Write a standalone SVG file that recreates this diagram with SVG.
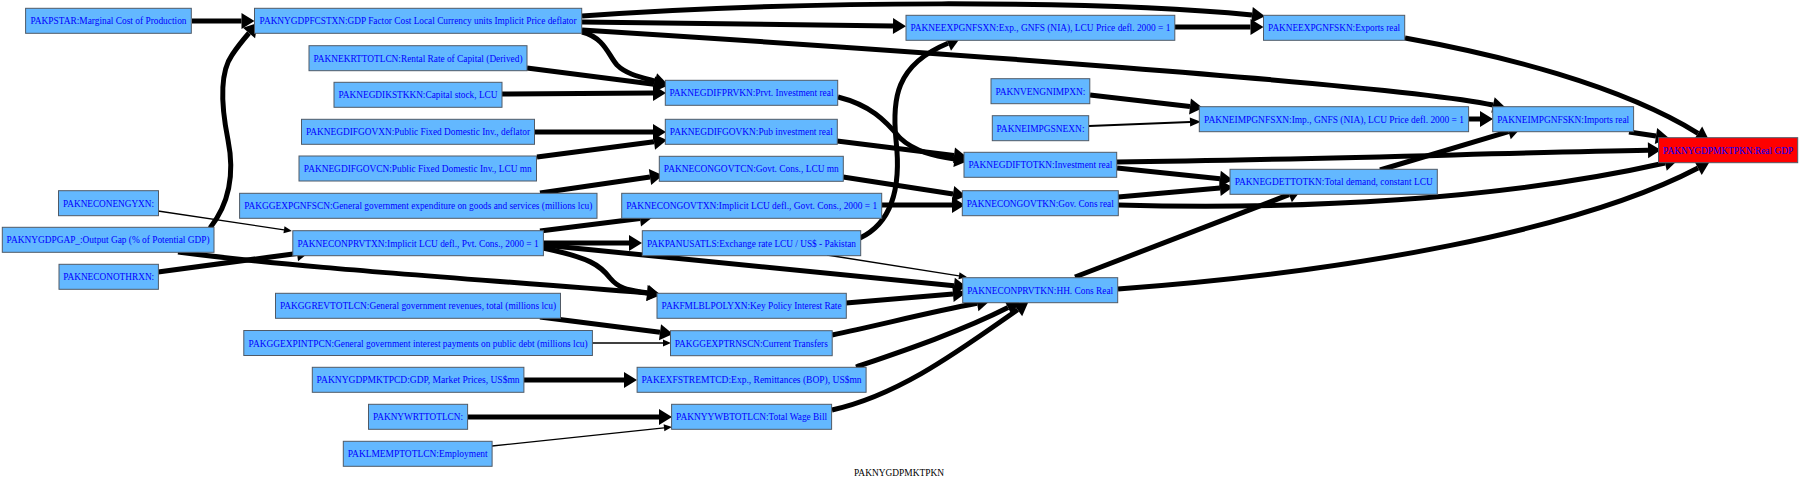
<svg xmlns="http://www.w3.org/2000/svg" width="1800" height="485" viewBox="0 0 1800 485">
<style>
.n rect{fill:#63b8ff;stroke:#505a66;stroke-width:1}
.n.r rect{fill:#ff0000}
.n text{font-family:"Liberation Serif","Times New Roman",serif;font-size:10px;fill:#0000ff;text-anchor:middle}
.e path{fill:none;stroke:#000;stroke-width:5;marker-end:url(#a)}
.e path.t{stroke-width:1.3;marker-end:url(#b)}
.e path.m{stroke-width:2;marker-end:url(#c)}
.title{font-family:"Liberation Serif","Times New Roman",serif;font-size:10px;fill:#000;text-anchor:middle}
</style>
<defs>
<marker id="a" markerUnits="userSpaceOnUse" markerWidth="14" markerHeight="16" refX="0" refY="8" orient="auto" overflow="visible"><path d="M0,0L13,8L0,16z" fill="#000"/></marker>
<marker id="b" markerUnits="userSpaceOnUse" markerWidth="8" markerHeight="7" refX="0" refY="3.5" orient="auto" overflow="visible"><path d="M0,0L8,3.5L0,7z" fill="#000"/></marker>
<marker id="c" markerUnits="userSpaceOnUse" markerWidth="11" markerHeight="9" refX="0" refY="4.5" orient="auto" overflow="visible"><path d="M0,0L11,4.5L0,9z" fill="#000"/></marker>
</defs>
<rect x="0" y="0" width="1800" height="485" fill="#fff"/>
<g id="edges" class="e">
<path d="M192,21L241.5,21"/>
<path d="M210,228C232,200 234,170 228,140C222,110 218,75 232,55C238,46 243,40 249,33"/>
<path d="M582,22C700,23 800,25 893,26"/>
<path d="M582,16C800,0 1100,0 1252,15"/>
<path d="M582,30C900,50 1400,85 1493,105"/>
<path d="M582,32C605,38 608,55 617,65C626,74 640,77 655,81"/>
<path d="M527,68L654,84.3"/>
<path d="M502,94L653,93"/>
<path d="M535,132L653,132"/>
<path d="M537,157L654,141.7"/>
<path d="M540,193L650,177"/>
<path d="M540,231L640,218.6"/>
<path d="M543,243L629,243"/>
<path d="M543,248C590,258 600,265 610,278C620,290 630,290 647.6,293"/>
<path d="M178,252C300,268 450,277 647,293"/>
<path d="M543,245L954,285.8"/>
<path class="t" d="M827,255L959,275.8"/>
<path d="M846,303L953,294.1"/>
<path d="M832,335C880,325 930,312 977,303.3"/>
<path d="M856,367C900,352 960,332 1008,307.6"/>
<path d="M832,410C900,395 960,350 1017.6,309.8"/>
<path d="M540,317L660,332.3"/>
<path class="t" d="M592,343L663,343"/>
<path d="M524,380L624,380"/>
<path d="M468,417L659,417"/>
<path class="t" d="M492,446L664,427.8"/>
<path class="t" d="M158,211L284,229.8"/>
<path d="M158,272L297,253.4"/>
<path d="M860,238C898,220 900,175 896,140C892,100 895,65 948,43.3"/>
<path d="M1175,27L1250.5,27"/>
<path d="M1405,38C1500,55 1620,85 1698,133.3"/>
<path d="M1629,132L1656,136"/>
<path d="M1469,119L1480,119"/>
<path d="M1090,95L1190,106.5"/>
<path class="m" d="M1089,126L1190,122.1"/>
<path d="M1380,170L1508.5,131.7"/>
<path d="M838,97C870,105 885,120 900,138C915,152 935,156 954.6,159.1"/>
<path d="M837,141L954,155.4"/>
<path d="M843,177L953,194"/>
<path d="M882,205L952,205"/>
<path d="M1117,168L1220,178.7"/>
<path d="M1118,197L1220,188.1"/>
<path d="M1075,277L1289,194.7"/>
<path d="M1117,162C1300,160 1500,153 1648,150.3"/>
<path d="M1118,205C1300,210 1500,200 1665,163"/>
<path d="M1118,289C1350,272 1580,230 1698,168"/>
</g>
<g id="PAKPSTAR" class="n"><rect x="25.6" y="8.3" width="165.7" height="25"/><text x="108.5" y="24.3" textLength="156" lengthAdjust="spacingAndGlyphs">PAKPSTAR:Marginal Cost of Production</text></g>
<g id="PAKNYGDPFCSTXN" class="n"><rect x="254.5" y="8.3" width="327.2" height="25"/><text x="418.1" y="24.3" textLength="317" lengthAdjust="spacingAndGlyphs">PAKNYGDPFCSTXN:GDP Factor Cost Local Currency units Implicit Price deflator</text></g>
<g id="PAKNEKRTTOTLCN" class="n"><rect x="309" y="45.7" width="218" height="25"/><text x="418" y="61.7" textLength="209" lengthAdjust="spacingAndGlyphs">PAKNEKRTTOTLCN:Rental Rate of Capital (Derived)</text></g>
<g id="PAKNEGDIKSTKKN" class="n"><rect x="334" y="82.3" width="168" height="25"/><text x="418" y="98.3" textLength="159" lengthAdjust="spacingAndGlyphs">PAKNEGDIKSTKKN:Capital stock, LCU</text></g>
<g id="PAKNEGDIFGOVXN" class="n"><rect x="301.5" y="119.3" width="233" height="25"/><text x="418" y="135.3" textLength="224" lengthAdjust="spacingAndGlyphs">PAKNEGDIFGOVXN:Public Fixed Domestic Inv., deflator</text></g>
<g id="PAKNEGDIFGOVCN" class="n"><rect x="299" y="156" width="237.5" height="25"/><text x="417.8" y="172" textLength="228" lengthAdjust="spacingAndGlyphs">PAKNEGDIFGOVCN:Public Fixed Domestic Inv., LCU mn</text></g>
<g id="PAKNEGDIFPRVKN" class="n"><rect x="665.3" y="80.3" width="172.4" height="25"/><text x="751.5" y="96.3" textLength="164" lengthAdjust="spacingAndGlyphs">PAKNEGDIFPRVKN:Prvt. Investment real</text></g>
<g id="PAKNEGDIFGOVKN" class="n"><rect x="665.3" y="119.3" width="172" height="25"/><text x="751.3" y="135.3" textLength="163" lengthAdjust="spacingAndGlyphs">PAKNEGDIFGOVKN:Pub investment real</text></g>
<g id="PAKNECONGOVTCN" class="n"><rect x="659.3" y="156.3" width="184" height="25"/><text x="751.3" y="172.3" textLength="175" lengthAdjust="spacingAndGlyphs">PAKNECONGOVTCN:Govt. Cons., LCU mn</text></g>
<g id="PAKGGEXPGNFSCN" class="n"><rect x="239.6" y="193.3" width="357.4" height="25"/><text x="418.3" y="209.3" textLength="348" lengthAdjust="spacingAndGlyphs">PAKGGEXPGNFSCN:General government expenditure on goods and services (millions lcu)</text></g>
<g id="PAKNECONGOVTXN" class="n"><rect x="621.7" y="193.3" width="260" height="25"/><text x="751.7" y="209.3" textLength="251" lengthAdjust="spacingAndGlyphs">PAKNECONGOVTXN:Implicit LCU defl., Govt. Cons., 2000 = 1</text></g>
<g id="PAKNECONPRVTXN" class="n"><rect x="292.8" y="230.7" width="250.6" height="25"/><text x="418.1" y="246.7" textLength="241" lengthAdjust="spacingAndGlyphs">PAKNECONPRVTXN:Implicit LCU defl., Pvt. Cons., 2000 = 1</text></g>
<g id="PAKPANUSATLS" class="n"><rect x="642.3" y="230.7" width="218.4" height="25"/><text x="751.5" y="246.7" textLength="209" lengthAdjust="spacingAndGlyphs">PAKPANUSATLS:Exchange rate LCU / US$ - Pakistan</text></g>
<g id="PAKFMLBLPOLYXN" class="n"><rect x="657" y="293.3" width="189.3" height="25"/><text x="751.6" y="309.3" textLength="180" lengthAdjust="spacingAndGlyphs">PAKFMLBLPOLYXN:Key Policy Interest Rate</text></g>
<g id="PAKGGEXPTRNSCN" class="n"><rect x="670.5" y="330.7" width="161.7" height="25"/><text x="751.3" y="346.7" textLength="153" lengthAdjust="spacingAndGlyphs">PAKGGEXPTRNSCN:Current Transfers</text></g>
<g id="PAKNECONENGYXN" class="n"><rect x="58.5" y="190.7" width="100" height="25"/><text x="108.5" y="206.7" textLength="91" lengthAdjust="spacingAndGlyphs">PAKNECONENGYXN:</text></g>
<g id="PAKNYGDPGAP_" class="n"><rect x="2.3" y="227.3" width="211.7" height="25"/><text x="108.1" y="243.3" textLength="203" lengthAdjust="spacingAndGlyphs">PAKNYGDPGAP_:Output Gap (% of Potential GDP)</text></g>
<g id="PAKNECONOTHRXN" class="n"><rect x="59" y="264.3" width="99.4" height="25"/><text x="108.7" y="280.3" textLength="91" lengthAdjust="spacingAndGlyphs">PAKNECONOTHRXN:</text></g>
<g id="PAKGGREVTOTLCN" class="n"><rect x="275.5" y="293.3" width="285" height="25"/><text x="418" y="309.3" textLength="276" lengthAdjust="spacingAndGlyphs">PAKGGREVTOTLCN:General government revenues, total (millions lcu)</text></g>
<g id="PAKGGEXPINTPCN" class="n"><rect x="243.8" y="330.5" width="348.6" height="25"/><text x="418.1" y="346.5" textLength="339" lengthAdjust="spacingAndGlyphs">PAKGGEXPINTPCN:General government interest payments on public debt (millions lcu)</text></g>
<g id="PAKNYGDPMKTPCD" class="n"><rect x="312.3" y="367.3" width="211.6" height="25"/><text x="418.1" y="383.3" textLength="203" lengthAdjust="spacingAndGlyphs">PAKNYGDPMKTPCD:GDP, Market Prices, US$mn</text></g>
<g id="PAKNYWRTTOTLCN" class="n"><rect x="368.5" y="404.3" width="99.1" height="25"/><text x="418" y="420.3" textLength="90" lengthAdjust="spacingAndGlyphs">PAKNYWRTTOTLCN:</text></g>
<g id="PAKLMEMPTOTLCN" class="n"><rect x="343.3" y="441.3" width="148.8" height="25"/><text x="417.7" y="457.3" textLength="140" lengthAdjust="spacingAndGlyphs">PAKLMEMPTOTLCN:Employment</text></g>
<g id="PAKEXFSTREMTCD" class="n"><rect x="637.1" y="367.3" width="229" height="25"/><text x="751.6" y="383.3" textLength="220" lengthAdjust="spacingAndGlyphs">PAKEXFSTREMTCD:Exp., Remittances (BOP), US$mn</text></g>
<g id="PAKNYYWBTOTLCN" class="n"><rect x="671.6" y="404.3" width="160" height="25"/><text x="751.6" y="420.3" textLength="151" lengthAdjust="spacingAndGlyphs">PAKNYYWBTOTLCN:Total Wage Bill</text></g>
<g id="PAKNEEXPGNFSXN" class="n"><rect x="906" y="15.3" width="268.8" height="25"/><text x="1040.4" y="31.3" textLength="260" lengthAdjust="spacingAndGlyphs">PAKNEEXPGNFSXN:Exp., GNFS (NIA), LCU Price defl. 2000 = 1</text></g>
<g id="PAKNEEXPGNFSKN" class="n"><rect x="1263.5" y="15.3" width="141.2" height="25"/><text x="1334.1" y="31.3" textLength="132" lengthAdjust="spacingAndGlyphs">PAKNEEXPGNFSKN:Exports real</text></g>
<g id="PAKNVENGNIMPXN" class="n"><rect x="991" y="78.7" width="98.8" height="25"/><text x="1040.4" y="94.7" textLength="90" lengthAdjust="spacingAndGlyphs">PAKNVENGNIMPXN:</text></g>
<g id="PAKNEIMPGSNEXN" class="n"><rect x="992.3" y="115.7" width="96.4" height="25"/><text x="1040.5" y="131.7" textLength="88" lengthAdjust="spacingAndGlyphs">PAKNEIMPGSNEXN:</text></g>
<g id="PAKNEGDIFTOTKN" class="n"><rect x="964" y="152.3" width="152.7" height="25"/><text x="1040.4" y="168.3" textLength="144" lengthAdjust="spacingAndGlyphs">PAKNEGDIFTOTKN:Investment real</text></g>
<g id="PAKNECONGOVTKN" class="n"><rect x="962.3" y="190.7" width="156" height="25"/><text x="1040.3" y="206.7" textLength="147" lengthAdjust="spacingAndGlyphs">PAKNECONGOVTKN:Gov. Cons real</text></g>
<g id="PAKNECONPRVTKN" class="n"><rect x="962.7" y="277.7" width="155" height="25"/><text x="1040.2" y="293.7" textLength="146" lengthAdjust="spacingAndGlyphs">PAKNECONPRVTKN:HH. Cons Real</text></g>
<g id="PAKNEIMPGNFSXN" class="n"><rect x="1199.3" y="106.7" width="269.3" height="25"/><text x="1334" y="122.7" textLength="260" lengthAdjust="spacingAndGlyphs">PAKNEIMPGNFSXN:Imp., GNFS (NIA), LCU Price defl. 2000 = 1</text></g>
<g id="PAKNEIMPGNFSKN" class="n"><rect x="1492.7" y="106.7" width="140.9" height="25"/><text x="1563.2" y="122.7" textLength="132" lengthAdjust="spacingAndGlyphs">PAKNEIMPGNFSKN:Imports real</text></g>
<g id="PAKNEGDETTOTKN" class="n"><rect x="1230" y="169.3" width="207.3" height="25"/><text x="1333.7" y="185.3" textLength="198" lengthAdjust="spacingAndGlyphs">PAKNEGDETTOTKN:Total demand, constant LCU</text></g>
<g id="PAKNYGDPMKTPKN" class="n r"><rect x="1658.5" y="137.7" width="139.2" height="25"/><text x="1728.1" y="153.7" textLength="130" lengthAdjust="spacingAndGlyphs">PAKNYGDPMKTPKN:Real GDP</text></g>
<text class="title" x="899" y="476" textLength="90" lengthAdjust="spacingAndGlyphs">PAKNYGDPMKTPKN</text>
</svg>
